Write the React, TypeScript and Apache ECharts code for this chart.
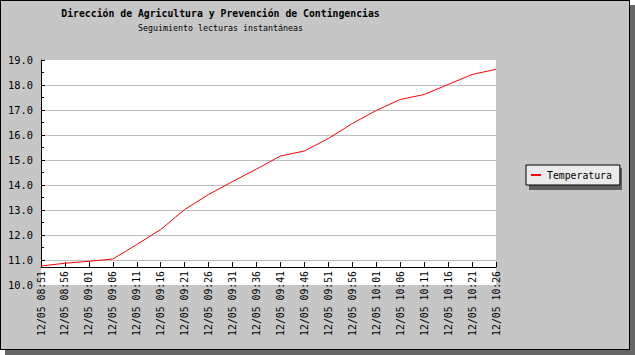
import React, { useEffect, useRef } from "react";
import * as echarts from "echarts";

const titleText = "Dirección de Agricultura y Prevención de Contingencias";
const subtitleText = "Seguimiento lecturas instantáneas";
const seriesName = "Temperatura";

const categories = [
  "12/05 08:51", "12/05 08:56", "12/05 09:01", "12/05 09:06", "12/05 09:11",
  "12/05 09:16", "12/05 09:21", "12/05 09:26", "12/05 09:31", "12/05 09:36",
  "12/05 09:41", "12/05 09:46", "12/05 09:51", "12/05 09:56", "12/05 10:01",
  "12/05 10:06", "12/05 10:11", "12/05 10:16", "12/05 10:21", "12/05 10:26",
];

const temperatura = [
  10.76, 10.87, 10.95, 11.04, 11.62, 12.22, 13.02, 13.62, 14.14, 14.64,
  15.16, 15.36, 15.86, 16.46, 16.98, 17.42, 17.62, 18.02, 18.42, 18.63,
];

const yMin = 10;
const yMax = 19;
const yStep = 1;
const majorTicks = [11, 12, 13, 14, 15, 16, 17, 18, 19];
const minorTicks = [11.5, 12.5, 13.5, 14.5, 15.5, 16.5, 17.5, 18.5];
// value where the x axis crosses the y axis
const xAxisCross = 10.72;

const FONT = "'DejaVu Sans Mono', 'Liberation Mono', monospace";

export default function App() {
  const ref = useRef<HTMLDivElement>(null);

  useEffect(() => {
    if (!ref.current) return;
    const chart = echarts.init(ref.current, undefined, { renderer: "svg" });
    const plotTop = 60;
    const plotH = 225;
    const pxPerUnit = plotH / (yMax - yMin);
    const axisGridH = (yMax - xAxisCross) * pxPerUnit;

    chart.setOption({
      animation: false,
      title: {
        text: titleText,
        subtext: subtitleText,
        left: 220.5,
        top: 8,
        padding: 0,
        itemGap: 6,
        textAlign: "center",
        textStyle: { fontFamily: FONT, fontSize: 9.8, fontWeight: "bold", color: "#000" },
        subtextStyle: { fontFamily: FONT, fontSize: 8.3, color: "#000" },
      },
      legend: {
        data: [{ name: seriesName, icon: "rect" }],
        left: 526,
        top: 165,
        orient: "vertical",
        padding: [5, 8, 5, 5],
        itemWidth: 10,
        itemHeight: 2,
        backgroundColor: "#ebebeb",
        borderColor: "#000",
        borderWidth: 1,
        borderRadius: 0,
        selectedMode: false,
        textStyle: { fontFamily: FONT, fontSize: 9.8, color: "#000", padding: [0, 0, 0, 1] },
      },
      graphic: [
        {
          type: "rect",
          z: 1,
          shape: { x: 529, y: 168, width: 93, height: 22 },
          style: { fill: "#5f5f5f" },
        },
      ],
      grid: [
        { left: 41, top: plotTop, width: 455, height: plotH, show: true, backgroundColor: "#fff", borderWidth: 0, outerBoundsMode: "none" },
        { left: 41, top: plotTop, width: 455, height: axisGridH, show: false, outerBoundsMode: "none" },
        { left: 41, top: plotTop, width: 455, height: plotH, show: false, outerBoundsMode: "none" },
      ],
      xAxis: [
        { type: "category", gridIndex: 0, data: categories, boundaryGap: false, show: false },
        {
          type: "category",
          gridIndex: 1,
          data: categories,
          boundaryGap: false,
          axisLine: { show: true, onZero: false, lineStyle: { color: "#000", width: 1 } },
          axisTick: { show: true, inside: true, length: 5, interval: 0, lineStyle: { color: "#000" } },
          axisLabel: { rotate: 90, margin: 4, interval: 0, fontFamily: FONT, fontSize: 9.8, color: "#000" },
          splitLine: { show: false },
        },
        { type: "category", gridIndex: 2, data: categories, boundaryGap: false, show: false },
      ],
      yAxis: [
        {
          type: "value",
          gridIndex: 0,
          min: yMin,
          max: yMax,
          interval: yStep,
          axisLine: { show: false },
          axisTick: { show: false },
          axisLabel: {
            formatter: (v: number) => v.toFixed(1),
            margin: 8,
            fontFamily: FONT,
            fontSize: 10.4,
            color: "#000",
          },
          splitLine: { show: true, showMinLine: false, showMaxLine: false, lineStyle: { color: "#bdbdbd", width: 1 } },
        },
        {
          type: "value",
          gridIndex: 1,
          min: xAxisCross,
          max: yMax,
          axisLine: { show: true, onZero: false, lineStyle: { color: "#000", width: 1 } },
          axisTick: { show: true, inside: true, length: 4, customValues: majorTicks, lineStyle: { color: "#000" } },
          axisLabel: { show: false },
          splitLine: { show: false },
        },
        {
          type: "value",
          gridIndex: 2,
          min: yMin,
          max: yMax,
          axisLine: { show: false },
          axisTick: { show: true, inside: true, length: 3, customValues: minorTicks, lineStyle: { color: "#000" } },
          axisLabel: { show: false },
          splitLine: { show: false },
        },
      ],
      series: [
        {
          name: seriesName,
          type: "line",
          xAxisIndex: 0,
          yAxisIndex: 0,
          data: temperatura,
          symbol: "none",
          lineStyle: { color: "#ff0000", width: 1 },
          itemStyle: { color: "#ff0000" },
          z: 5,
        },
      ],
    });
    return () => chart.dispose();
  }, []);

  return (
    <div style={{ position: "fixed", left: 0, top: 0, width: 635, height: 355, background: "#fff" }}>
      <div
        style={{
          position: "absolute",
          left: 0,
          top: 0,
          width: 630,
          height: 350,
          boxSizing: "border-box",
          background: "#c6c6c6",
          border: "1px solid #000",
          boxShadow: "5px 5px 0 #666",
        }}
      />
      <div ref={ref} style={{ position: "absolute", left: 0, top: 0, width: 635, height: 355 }} />
    </div>
  );
}
